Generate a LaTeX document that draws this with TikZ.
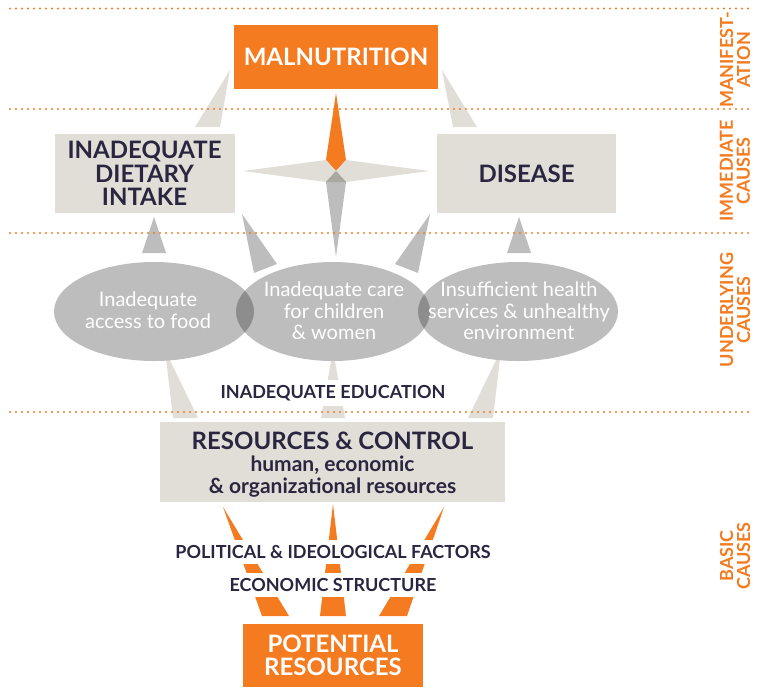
\documentclass[tikz,border=0pt]{standalone}
\usepackage{fontspec}
\setmainfont{Lato}
\usetikzlibrary{positioning}

\definecolor{malorange}{RGB}{244,123,32}
\definecolor{boxgray}{RGB}{225,222,216}
\definecolor{midgray}{RGB}{189,189,189}
\definecolor{lensgray}{RGB}{141,141,141}
\definecolor{hubgray}{RGB}{170,167,162}
\definecolor{navy}{RGB}{42,38,64}

\newcommand\headline{\fontsize{24}{22}\selectfont}

\begin{document}
\begin{tikzpicture}[x=1pt,y=-1pt,
    orangebox/.style={fill=malorange,text=white,align=center,inner sep=0pt,
                      font=\bfseries\fontsize{24}{23}\selectfont},
    graybox/.style={fill=boxgray,text=navy,align=center,inner sep=0pt,
                    font=\bfseries\fontsize{24}{23.5}\selectfont},
    ovaltext/.style={text=white,align=center,inner sep=0pt,
                     font=\fontsize{20}{21.5}\selectfont},
    band/.style={fill=white,text=navy,inner xsep=2pt,inner ysep=5pt,
                 font=\bfseries\fontsize{18}{18}\selectfont},
    sidelabel/.style={rotate=90,text=malorange,align=center,inner sep=0pt,
                      font=\bfseries\fontsize{18}{17}\selectfont},
    dotline/.style={draw=malorange,line width=2.2pt,line cap=round,
                    dash pattern=on 0pt off 6pt}]
  \useasboundingbox (0,0) rectangle (759,697);

  % wedges between the levels
  \fill[boxgray] (230,70) -- (195,127) -- (220,127) -- cycle;
  \fill[boxgray] (442,70) -- (453,127) -- (477,127) -- cycle;
  \fill[midgray] (154,217) -- (142,253) -- (166,253) -- cycle;
  \fill[midgray] (519,217) -- (507,253) -- (531,253) -- cycle;
  \fill[midgray] (242,214) -- (254,273) -- (277,264) -- cycle;
  \fill[midgray] (430,214) -- (418,273) -- (395,264) -- cycle;
  \fill[boxgray] (165,350) -- (173,418) -- (198,418) -- cycle;
  \fill[boxgray] (333,350) -- (321,418) -- (345,418) -- cycle;
  \fill[boxgray] (501,350) -- (468,418) -- (493,418) -- cycle;
  \fill[malorange] (223,507) -- (262,616) -- (289,616) -- cycle;
  \fill[malorange] (333,504) -- (320,616) -- (346,616) -- cycle;
  \fill[malorange] (444,507) -- (379,616) -- (407,616) -- cycle;

  % compass star
  \fill[malorange] (336,93) -- (346,160) -- (336,171) -- (326,160) -- cycle;
  \fill[boxgray] (243,171) -- (326,160) -- (336,171) -- (326,182) -- cycle;
  \fill[boxgray] (429,171) -- (346,160) -- (336,171) -- (346,182) -- cycle;
  \fill[midgray] (326,182) -- (336,171) -- (346,182) -- (336,257) -- cycle;
  \fill[hubgray] (326,182) -- (336,171) -- (346,182) -- cycle;

  % underlying causes
  \fill[midgray] (154,311.5) ellipse [x radius=100pt,y radius=49.5pt];
  \fill[midgray] (333,311.5) ellipse [x radius=97pt,y radius=49.5pt];
  \fill[midgray] (518,311.5) ellipse [x radius=100pt,y radius=49.5pt];
  \begin{scope}
    \clip (333,311.5) ellipse [x radius=97pt,y radius=49.5pt];
    \fill[lensgray] (154,311.5) ellipse [x radius=100pt,y radius=49.5pt];
    \fill[lensgray] (518,311.5) ellipse [x radius=100pt,y radius=49.5pt];
  \end{scope}

  \node[ovaltext] (food)   at (148,310) {Inadequate\\access to food};
  \node[ovaltext] (care)   at (334,311) {Inadequate care\\for children\\\& women};
  \node[ovaltext] (health) at (519,311) {Insufficient health\\services \& unhealthy\\environment};

  % boxes
  \node[orangebox,minimum width=204pt,minimum height=64pt] (malnutrition) at (336,57) {MALNUTRITION};
  \node[graybox,minimum width=180pt,minimum height=79pt] (dietary) at (144.5,173.5) {INADEQUATE\\DIETARY\\INTAKE};
  \node[graybox,minimum width=179pt,minimum height=79pt] (disease) at (526.5,173.5) {DISEASE};
  \node[band] (education) at (333,393) {INADEQUATE EDUCATION};
  \node[graybox,minimum width=345pt,minimum height=80pt] (control) at (332.5,462) {};
  \node[text=navy,align=center,inner sep=0pt,font=\bfseries\fontsize{21}{22}\selectfont]
    (controltext) at ([yshift=-3pt]control.center)
    {{\headline RESOURCES \& CONTROL}\\[0pt]human, economic\\\& organizational resources};
  \node[band] (political) at (333,552) {POLITICAL \& IDEOLOGICAL FACTORS};
  \node[band] (economic)  at (333,585) {ECONOMIC STRUCTURE};
  \node[orangebox,minimum width=180pt,minimum height=63pt] (potential) at (333,655.5) {POTENTIAL\\RESOURCES};

  % level separators
  \foreach \y in {8.5,109,233,412}
    \draw[dotline] (10,\y) -- (751,\y);

  % level names
  \node[sidelabel] (manifest)   at (735,60)  {MANIFEST-\\ATION};
  \node[sidelabel] (immediate)  at (735,171) {IMMEDIATE\\CAUSES};
  \node[sidelabel] (underlying) at (735,310) {UNDERLYING\\CAUSES};
  \node[sidelabel] (basic)      at (735,556) {BASIC\\CAUSES};
\end{tikzpicture}
\end{document}
